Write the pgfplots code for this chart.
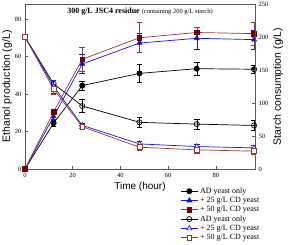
\documentclass[border=0pt]{standalone}
\usepackage{pgfplots}
\pgfplotsset{compat=1.18}
\usepackage{fontspec}
\setmainfont{Liberation Serif}
\newfontfamily\arialf{Liberation Sans}
\definecolor{myblue}{RGB}{20,20,235}
\definecolor{myredline}{RGB}{150,55,55}
\definecolor{myredfill}{RGB}{120,0,0}
\definecolor{axgray}{RGB}{90,90,90}
\begin{document}
\begin{tikzpicture}[x=1pt,y=1pt]
\useasboundingbox (-25,-76) rectangle (264,169);
\pgfplotsset{
  common/.style={
    at={(0,0)}, anchor=south west,
    scale only axis, width=230pt, height=165pt,
    xmin=0, xmax=96.4,
    axis line style={axgray, line width=0.8pt},
    tick style={axgray, line width=0.6pt},
    tick align=inside,
    major tick length=3pt,
    ticklabel style={font=\fontsize{6.5}{7}\selectfont},
    /pgf/number format/assume math mode=true,
    every axis plot/.append style={line width=0.7pt},
    error bars/error bar style={line width=0.5pt},
    error bars/error mark options={rotate=90, mark size=2.8pt, line width=0.5pt},
  },
  sty1/.style={black, mark=*, mark size=2.6pt, mark options={fill=black, draw=black}},
  sty2/.style={myblue, mark=triangle*, mark size=2.8pt, mark options={fill=myblue!70!black, draw=myblue}},
  sty3/.style={myredline, mark=square*, mark size=2.3pt, mark options={fill=myredfill, draw=myredfill}},
  sty4/.style={black, mark=o, mark size=2.6pt, mark options={fill=white, draw=black}},
  sty5/.style={myblue, mark=triangle*, mark size=2.9pt, mark options={fill=white, draw=myblue}},
  sty6/.style={myredline, mark=square*, mark size=2.4pt, mark options={fill=white, draw=myredline}},
}
\begin{axis}[common,
  ymin=0, ymax=88,
  xtick={0,20,40,60,80}, xtick pos=bottom,
  ytick={0,20,40,60,80}, ytick pos=left,
  xlabel={\arialf Time (hour)},
  ylabel={\arialf Ethanol production (g/L)},
  xlabel style={font=\arialf\fontsize{10}{11}\selectfont, yshift=3pt},
  ylabel style={font=\arialf\fontsize{10.5}{11}\selectfont, yshift=-4pt},
  xticklabel style={yshift=-1pt},
]
\addplot+[sty1, error bars/.cd, y dir=both, y explicit] coordinates {
 (0,0) +- (0,0) (12,24.5) +- (0,1.5) (24,44.5) +- (0,2.5) (48,51) +- (0,5) (72,53.5) +- (0,3.5) (96,53.2) +- (0,2)};
\addplot+[sty2, error bars/.cd, y dir=both, y explicit] coordinates {
 (0,0) +- (0,0) (12,28) +- (0,1.5) (24,56) +- (0,5) (48,67.2) +- (0,5) (72,69.7) +- (0,6) (96,69) +- (0,5)};
\addplot+[sty3, error bars/.cd, y dir=both, y explicit] coordinates {
 (0,0) +- (0,0) (12,30.5) +- (0,1.5) (24,58.5) +- (0,6.5) (48,70) +- (0,8) (72,72.8) +- (0,3) (96,72.2) +- (0,6)};
\node[font=\fontsize{8}{9}\selectfont, anchor=center] at (axis description cs:0.5,0.955)
  {\textbf{300 g/L JSC4 residue} {\fontsize{6.5}{8}\selectfont(containing 200 g/L starch)}};
\end{axis}
\begin{axis}[common,
  ymin=0, ymax=250,
  axis x line=none,
  axis y line*=right,
  ytick={0,50,100,150,200,250},
  ylabel={\arialf Starch consumption (g/L)},
  ylabel style={font=\arialf\fontsize{10.5}{11}\selectfont, yshift=2pt},
  legend style={at={(0.675,-0.1)}, anchor=north west, draw=none, fill=none,
    font=\fontsize{8}{9.5}\selectfont, row sep=-1.6pt, inner sep=0pt,
    /tikz/every even column/.append style={column sep=3pt}},
  legend cell align=left,
  legend image code/.code={\draw[#1] (0pt,0pt) -- (17pt,0pt); \draw[#1, only marks] plot coordinates {(8.5pt,0pt)};},
]
\addlegendimage{sty1}
\addlegendentry{AD yeast only}
\addlegendimage{sty2}
\addlegendentry{+ 25 g/L CD yeast}
\addlegendimage{sty3}
\addlegendentry{+ 50 g/L CD yeast}
\addplot+[sty4, error bars/.cd, y dir=both, y explicit] coordinates {
 (0,200) +- (0,0) (12,129) +- (0,5) (24,95.5) +- (0,10) (48,70.7) +- (0,8) (72,68) +- (0,8) (96,66) +- (0,8)};
\addlegendentry{AD yeast only}
\addplot+[sty5, error bars/.cd, y dir=both, y explicit] coordinates {
 (0,200) +- (0,0) (12,125) +- (0,10) (24,66) +- (0,4) (48,38) +- (0,4) (72,34) +- (0,4) (96,32) +- (0,4)};
\addlegendentry{+ 25 g/L CD yeast}
\addplot+[sty6, error bars/.cd, y dir=both, y explicit] coordinates {
 (0,200) +- (0,0) (12,121) +- (0,8) (24,64) +- (0,3) (48,33) +- (0,4) (72,29) +- (0,5) (96,27) +- (0,4)};
\addlegendentry{+ 50 g/L CD yeast}
\end{axis}
\end{tikzpicture}
\end{document}
